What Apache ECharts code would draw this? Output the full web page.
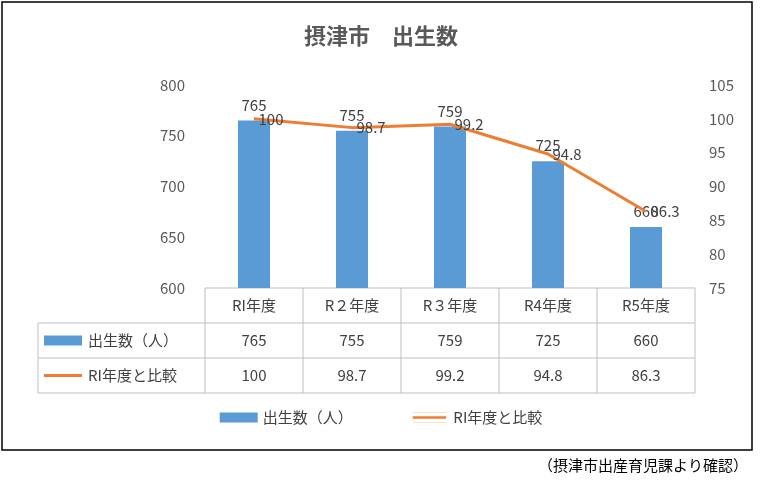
<!DOCTYPE html><html><head><meta charset="utf-8">
<script src="https://cdn.jsdelivr.net/npm/echarts@6/dist/echarts.min.js"></script>
<style>body{margin:0;background:#fff}#c{width:762px;height:492px}</style></head><body><div id="c"></div>
<script>
const categories=['RI年度','R２年度','R３年度','R4年度','R5年度'];
const births=[765,755,759,725,660];
const ratio=[100,98.7,99.2,94.8,86.3];
const ratioText=['100','98.7','99.2','94.8','86.3'];
const seriesNames=['出生数（人）','RI年度と比較'];
const F='"Noto Sans CJK JP", sans-serif';
const L=205,R=695,T=85,B=288,rowH=35,tableL=38;
const chart=echarts.init(document.getElementById('c'));
const col=(R-L)/categories.length;
const g=[];
g.push({type:'rect',shape:{x:2,y:2,width:750,height:448},style:{fill:'none',stroke:'#000',lineWidth:1.5}});
const ln=(x1,y1,x2,y2)=>g.push({type:'line',shape:{x1,y1,x2,y2},style:{stroke:'#bfbfbf',lineWidth:1}});
ln(L,B,R,B);ln(tableL,B+rowH,R,B+rowH);ln(tableL,B+2*rowH,R,B+2*rowH);ln(tableL,B+3*rowH,R,B+3*rowH);
ln(tableL,B+rowH,tableL,B+3*rowH);
for(let i=0;i<=categories.length;i++)ln(L+i*col,B,L+i*col,B+3*rowH);
const txt=(x,y,s,align)=>g.push({type:'text',x,y,style:{text:s,font:'15px '+F,fill:'#404040',align:align||'center',verticalAlign:'middle'}});
categories.forEach((c,i)=>{const x=L+(i+.5)*col;txt(x,B+rowH/2,c);txt(x,B+1.5*rowH,String(births[i]));txt(x,B+2.5*rowH,ratioText[i]);});
g.push({type:'rect',shape:{x:44,y:B+1.5*rowH-5,width:38,height:10},style:{fill:'#5b9bd5'}});
g.push({type:'line',shape:{x1:44,y1:B+2.5*rowH,x2:82,y2:B+2.5*rowH},style:{stroke:'#ed7d31',lineWidth:3}});
txt(88,B+1.5*rowH,seriesNames[0],'left');txt(88,B+2.5*rowH,seriesNames[1],'left');
g.push({type:'text',right:14,top:458,style:{text:'（摂津市出産育児課より確認）',font:'15px '+F,fill:'#000'}});
chart.setOption({
animation:false,
title:{text:'摂津市　出生数',left:'center',top:20,textStyle:{fontFamily:F,fontSize:22,fontWeight:'bold',color:'#595959'}},
legend:{bottom:62,left:'center',itemGap:60,textStyle:{fontFamily:F,fontSize:15,color:'#404040'},
 data:[{name:seriesNames[0],icon:'rect'},{name:seriesNames[1],icon:'path://M0,0h40v0.3h-40zM0,4.5h40v3h-40zM0,11.7h40v0.3h-40z'}],itemWidth:38,itemHeight:10},
grid:{left:L,right:762-R,top:T,bottom:492-B},
xAxis:{type:'category',data:categories,axisLabel:{show:false},axisTick:{show:false},axisLine:{show:false}},
yAxis:[{type:'value',min:600,max:800,interval:50,splitLine:{show:false},axisLine:{show:false},axisTick:{show:false},axisLabel:{fontFamily:F,fontSize:15,color:'#595959',margin:20}},
{type:'value',min:75,max:105,interval:5,splitLine:{show:false},axisLine:{show:false},axisTick:{show:false},axisLabel:{fontFamily:F,fontSize:15,color:'#595959',margin:14}}],
series:[{name:seriesNames[0],type:'bar',data:births,barWidth:32,itemStyle:{color:'#5b9bd5'},
 label:{show:true,position:'top',distance:8,fontFamily:F,fontSize:15,color:'#404040'}},
{name:seriesNames[1],type:'line',yAxisIndex:1,data:ratio,symbol:'circle',symbolSize:1,showSymbol:true,lineStyle:{color:'#ed7d31',width:3},itemStyle:{color:'#ed7d31'},
 label:{show:true,position:'right',distance:4,fontFamily:F,fontSize:15,color:'#404040',formatter:p=>ratioText[p.dataIndex]}}],
graphic:g});
</script></body></html>
